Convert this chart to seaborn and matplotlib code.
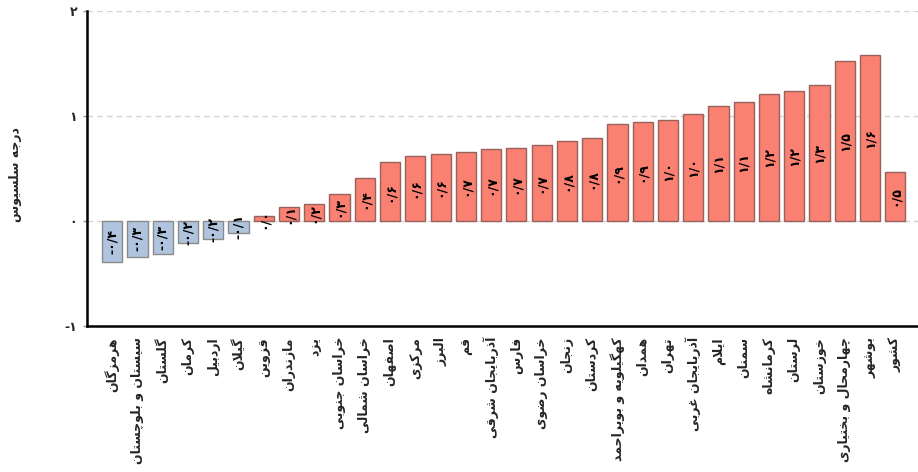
import matplotlib
matplotlib.use("Agg")
import matplotlib.pyplot as plt
import seaborn as sns
import pandas as pd

# temperature anomaly per province (degrees C)
PROVINCES = ["هرمزگان", "سیستان و بلوچستان", "گلستان", "کرمان", "اردبیل", "گیلان",
             "قزوین", "مازندران", "یزد", "خراسان جنوبی", "خراسان شمالی", "اصفهان",
             "مرکزی", "البرز", "قم", "آذربایجان شرقی", "فارس", "خراسان رضوی",
             "زنجان", "کردستان", "کهگیلویه و بویراحمد", "همدان", "تهران",
             "آذربایجان غربی", "ایلام", "سمنان", "کرمانشاه", "لرستان", "خوزستان",
             "چهارمحال و بختیاری", "بوشهر", "کشور"]
ANOMALY = [-0.39, -0.34, -0.31, -0.21, -0.17, -0.11,
           0.045, 0.13, 0.16, 0.26, 0.41, 0.56,
           0.62, 0.64, 0.66, 0.69, 0.70, 0.72,
           0.76, 0.79, 0.92, 0.94, 0.96,
           1.02, 1.10, 1.13, 1.21, 1.24, 1.30,
           1.52, 1.58, 0.47]
Y_TICKS = [-1, 0, 1, 2]
Y_LABEL = "درجه سلسیوس"

BLUE = "#b0c4de"
RED = "#fa8072"

FA_DIGITS = str.maketrans("0123456789.", "۰۱۲۳۴۵۶۷۸۹/")


# ─── minimal Persian shaping (matplotlib does no joining / bidi) ─────────────

def f4(a):
    return (chr(a), chr(a + 1), chr(a + 2), chr(a + 3))


def f2(a):
    return (chr(a), chr(a + 1), chr(a), chr(a + 1))


# isolated, final, initial, medial
FORMS = {
    "ا": f2(0xFE8D), "آ": f2(0xFE81), "ب": f4(0xFE8F), "پ": f4(0xFB56),
    "ت": f4(0xFE95), "ث": f4(0xFE99), "ج": f4(0xFE9D), "چ": f4(0xFB7A),
    "ح": f4(0xFEA1), "خ": f4(0xFEA5), "د": f2(0xFEA9), "ذ": f2(0xFEAB),
    "ر": f2(0xFEAD), "ز": f2(0xFEAF), "ژ": f2(0xFB8A), "س": f4(0xFEB1),
    "ش": f4(0xFEB5), "ص": f4(0xFEB9), "ض": f4(0xFEBD), "ط": f4(0xFEC1),
    "ظ": f4(0xFEC5), "ع": f4(0xFEC9), "غ": f4(0xFECD), "ف": f4(0xFED1),
    "ق": f4(0xFED5), "ک": f4(0xFB8E), "گ": f4(0xFB92), "ل": f4(0xFEDD),
    "م": f4(0xFEE1), "ن": f4(0xFEE5), "ه": f4(0xFEE9), "و": f2(0xFEED),
    "ی": f4(0xFBFC),
}
RIGHT_ONLY = set("اآدذرزژو")
LAM_ALEF = {"ا": ("\ufefb", "\ufefc"), "آ": ("\ufef5", "\ufef6")}


def shape_fa(text):
    text = text.replace("ك", "ک").replace("ي", "ی")
    res = []
    n = len(text)
    i = 0
    while i < n:
        c = text[i]
        if c not in FORMS:
            res.append(c)
            i += 1
            continue
        prev = text[i - 1] if i > 0 else ""
        jp = prev in FORMS and prev not in RIGHT_ONLY
        if c == "ل" and i + 1 < n and text[i + 1] in LAM_ALEF:
            lig = LAM_ALEF[text[i + 1]]
            res.append(lig[1] if jp else lig[0])
            i += 2
            continue
        nxt = text[i + 1] if i + 1 < n else ""
        jn = c not in RIGHT_ONLY and nxt in FORMS
        iso, fin, ini, med = FORMS[c]
        res.append(med if (jp and jn) else fin if jp else ini if jn else iso)
        i += 1
    return "".join(reversed(res))


def fa_num(v, fmt="{:.1f}"):
    s = fmt.format(abs(v)).translate(FA_DIGITS)
    return "-" + s if v < 0 else s


def main():
    sns.set_style("white")
    plt.rcParams["font.family"] = ["DejaVu Sans"]

    df = pd.DataFrame({
        "province": [shape_fa(p) for p in PROVINCES],
        "value": ANOMALY,
        "sign": ["neg" if v < 0 else "pos" for v in ANOMALY],
    })

    fig = plt.figure(figsize=(9.18, 4.72), dpi=100)
    ax = fig.add_axes([87 / 918, 1 - 326 / 472, 831 / 918, 315 / 472])

    sns.barplot(data=df, x="province", y="value", hue="sign",
                palette={"neg": BLUE, "pos": RED}, dodge=False, legend=False,
                width=0.8, linewidth=1, saturation=1, ax=ax)
    for p in ax.patches:
        p.set_edgecolor("#8a8a8a" if p.get_height() < 0 else "#98625c")

    for i, v in enumerate(ANOMALY):
        ax.text(i, v / 2, fa_num(v), rotation=90, ha="center", va="center",
                fontsize=9, fontweight="bold", color="black")

    ax.set_ylim(-1, 2)
    ax.set_xlim(-1, 31.9)
    ax.set_yticks(Y_TICKS)
    ax.set_yticklabels([fa_num(t, "{:d}") for t in Y_TICKS], fontsize=9,
                       fontweight="bold")
    ax.set_xlabel("")
    ax.set_ylabel(shape_fa(Y_LABEL), fontsize=9, fontweight="bold")
    ax.yaxis.set_label_coords(-0.078, 0.48)

    ax.set_axisbelow(True)
    ax.yaxis.grid(True, linestyle=(0, (4, 3)), color="#d3d3d3", linewidth=1)
    for side in ["top", "right"]:
        ax.spines[side].set_visible(False)
    for side in ["left", "bottom"]:
        ax.spines[side].set_color("black")
        ax.spines[side].set_linewidth(1.8)

    ax.tick_params(axis="x", length=5, width=1, color="#999999",
                   labelrotation=90, labelsize=9, pad=3)
    ax.tick_params(axis="y", length=3, width=1, color="#999999", pad=4,
                   left=True)
    for lbl in ax.get_xticklabels():
        lbl.set_fontweight("bold")

    plt.savefig("out.png", dpi=100)


if __name__ == "__main__":
    main()
